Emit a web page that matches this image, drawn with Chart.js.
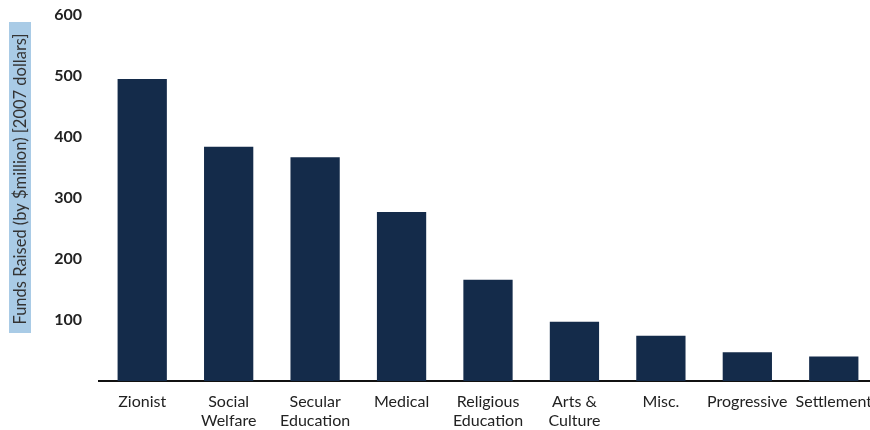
<!DOCTYPE html>
<html>
<head>
<meta charset="utf-8">
<script src="https://cdn.jsdelivr.net/npm/chart.js@4.4.0/dist/chart.umd.min.js"></script>
<style>
  html, body { margin: 0; padding: 0; background: #fff; overflow: hidden; }
  #wrap { width: 880px; height: 430px; }
</style>
</head>
<body>
<div id="wrap"><canvas id="myChart" width="880" height="430"></canvas></div>
<script>
const categories = [
    'Zionist', ['Social', 'Welfare'], ['Secular', 'Education'], 'Medical',
    ['Religious', 'Education'], ['Arts &', 'Culture'], 'Misc.', 'Progressive', 'Settlement'
];
const fundsRaised = [495, 384, 367, 277, 166, 97, 74, 47, 40];
const yTicks = [100, 200, 300, 400, 500, 600];
const yTitle = 'Funds Raised (by $million) [2007 dollars]';

// title with a light blue box behind it, drawn by hand
const titleBox = {
    id: 'titleBox',
    afterDraw(chart) {
        const c = chart.ctx;
        c.save();
        c.fillStyle = '#a9cbe6';
        c.fillRect(9, 22, 22, 311);
        c.translate(20, 179);
        c.rotate(-Math.PI / 2);
        c.font = '16.5px Lato';
        c.fillStyle = '#333';
        c.textAlign = 'center';
        c.textBaseline = 'middle';
        c.fillText(yTitle, 0, 1);
        c.restore();
    }
};

const ctx = document.getElementById('myChart').getContext('2d');
let myChart = new Chart(ctx, {
    type: 'bar',
    data: {
        labels: categories,
        datasets: [{
            data: fundsRaised,
            backgroundColor: '#142b4a',
            borderWidth: 0,
            barPercentage: 0.57,
            categoryPercentage: 1
        }]
    },
    options: {
        responsive: false,
        animation: false,
        layout: { padding: { top: 15, right: 3, left: 0, bottom: 0 } },
        plugins: { legend: { display: false }, tooltip: { enabled: false } },
        scales: {
            x: {
                afterFit(scale) {
                    scale.height = 49;
                    scale.paddingLeft = 0;
                    scale.paddingRight = 0;
                },
                grid: { display: false, drawTicks: false },
                border: { color: '#111', width: 2 },
                ticks: {
                    color: '#222',
                    font: { family: 'Lato', size: 16, lineHeight: 1.15 },
                    padding: 12,
                    maxRotation: 0,
                    autoSkip: false
                }
            },
            y: {
                min: 0,
                max: 600,
                afterFit(scale) {
                    scale.width = 99;
                    scale.paddingTop = 0;
                    scale.paddingBottom = 0;
                },
                afterBuildTicks(scale) {
                    scale.ticks = [0].concat(yTicks).map(v => ({ value: v }));
                },
                grid: { display: false, drawTicks: false },
                border: { display: false },
                ticks: {
                    color: '#222',
                    font: { family: 'Lato', size: 16, weight: 'bold' },
                    padding: 17,
                    callback: v => v === 0 ? '' : v
                }
            }
        }
    },
    plugins: [titleBox]
});
</script>
</body>
</html>
